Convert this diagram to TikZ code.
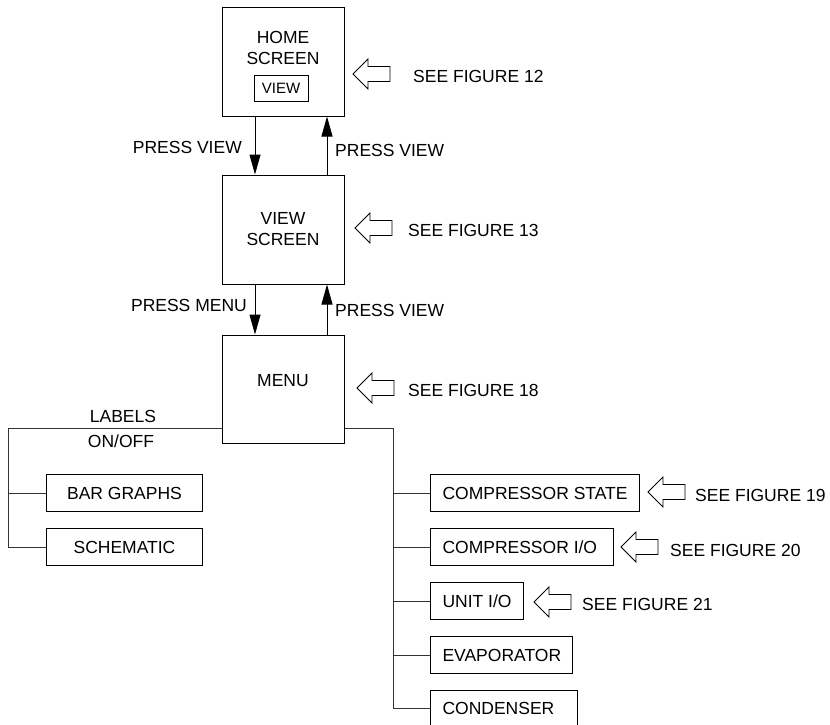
\documentclass[tikz,border=0pt]{standalone}
\usepackage{fontspec}
\setmainfont{Liberation Sans}
\usetikzlibrary{arrows.meta}
\begin{document}
\begin{tikzpicture}[x=1pt,y=-1pt,
  every node/.style={font=\fontsize{17.5}{21}\selectfont},
  bigbox/.style={draw=black,line width=1pt,minimum width=122pt,minimum height=109pt,inner sep=0pt,align=center},
  subbox/.style={draw=black,line width=1pt,minimum height=37pt,inner ysep=0pt,inner xsep=12pt,anchor=west},
  leftbox/.style={draw=black,line width=1pt,minimum height=37pt,minimum width=156pt,inner sep=0pt,anchor=west},
  lbl/.style={inner sep=0pt,align=center},
  tree/.style={draw=black!80,line width=1pt},
  conn/.style={draw=black,line width=1pt,-{Triangle[length=20pt,width=11pt]}},
  pics/harrow/.style={code={
    \draw[line width=0.8pt,fill=white] (0,0) -- (15,-15) -- (15,-7.5) -- (37,-7.5) -- (37,7.5) -- (15,7.5) -- (15,15) -- cycle;}}
]
\useasboundingbox (0,0) rectangle (830,724);

% main boxes
\node[bigbox] (home) at (283,61.5) {};
\node[lbl] (hometxt) at (283,47.5) {HOME\\SCREEN};
\node[draw=black,line width=0.8pt,minimum width=54pt,minimum height=26pt,inner sep=0pt,font=\fontsize{15}{18}\selectfont] (viewbtn) at (281,88) {VIEW};
\node[bigbox] (view) at (283,229.5) {VIEW\\SCREEN};
\node[bigbox,minimum height=108pt] (menu) at (283,389) {};
\node[lbl] (menutxt) at (283,381) {MENU};

% connectors between main boxes
\draw[conn] ([xshift=-28pt]home.south) -- ([xshift=-28pt]view.north);
\draw[conn] ([xshift=44pt]view.north) -- ([xshift=44pt]home.south);
\draw[conn] ([xshift=-28pt]view.south) -- ([xshift=-28pt]menu.north);
\draw[conn] ([xshift=44pt]menu.north) -- ([xshift=44pt]view.south);

\node[lbl,anchor=east] (pv1) at (242,147) {PRESS VIEW};
\node[lbl,anchor=west] (pv2) at (335,150) {PRESS VIEW};
\node[lbl,anchor=east] (pm) at (247,305) {PRESS MENU};
\node[lbl,anchor=west] (pv3) at (335,310) {PRESS VIEW};

% see figure arrows
\pic at (353,74) {harrow};
\node[lbl,anchor=west] (f12) at (413,76) {SEE FIGURE 12};
\pic at (355,228) {harrow};
\node[lbl,anchor=west] (f13) at (408,230) {SEE FIGURE 13};
\pic at (357,388) {harrow};
\node[lbl,anchor=west] (f18) at (408,390) {SEE FIGURE 18};

% left tree
\coordinate (tl) at (8,428);
\node[leftbox] (bar) at (46,493) {BAR GRAPHS};
\node[leftbox] (schem) at (46,547) {SCHEMATIC};
\draw[tree] (menu.west |- tl) -- (tl) -- (tl |- schem.west) -- (schem.west);
\draw[tree] (tl |- bar.west) -- (bar.west);
\node[lbl] (labels) at (123,416) {LABELS};
\node[lbl] (onoff) at (121,441) {ON/OFF};

% right tree
\coordinate (tr) at (393,428);
\node[subbox] (cs) at (430,493) {\makebox[185pt][l]{COMPRESSOR STATE}};
\node[subbox] (cio) at (430,547) {\makebox[159pt][l]{COMPRESSOR I/O}};
\node[subbox] (uio) at (430,601) {\makebox[69pt][l]{UNIT I/O}};
\node[subbox] (evap) at (430,655) {\makebox[118pt][l]{EVAPORATOR}};
\node[subbox] (cond) at (430,708.5) {\makebox[123pt][l]{CONDENSER}};
\draw[tree] (menu.east |- tr) -- (tr) -- (tr |- cond.west) -- (cond.west);
\foreach \n in {cs,cio,uio,evap}{\draw[tree] (tr |- \n.west) -- (\n.west);}

\pic at (648,492) {harrow};
\node[lbl,anchor=west] (f19) at (695,495) {SEE FIGURE 19};
\pic at (621,547) {harrow};
\node[lbl,anchor=west] (f20) at (670,550) {SEE FIGURE 20};
\pic at (534,602) {harrow};
\node[lbl,anchor=west] (f21) at (582,604) {SEE FIGURE 21};
\end{tikzpicture}
\end{document}
